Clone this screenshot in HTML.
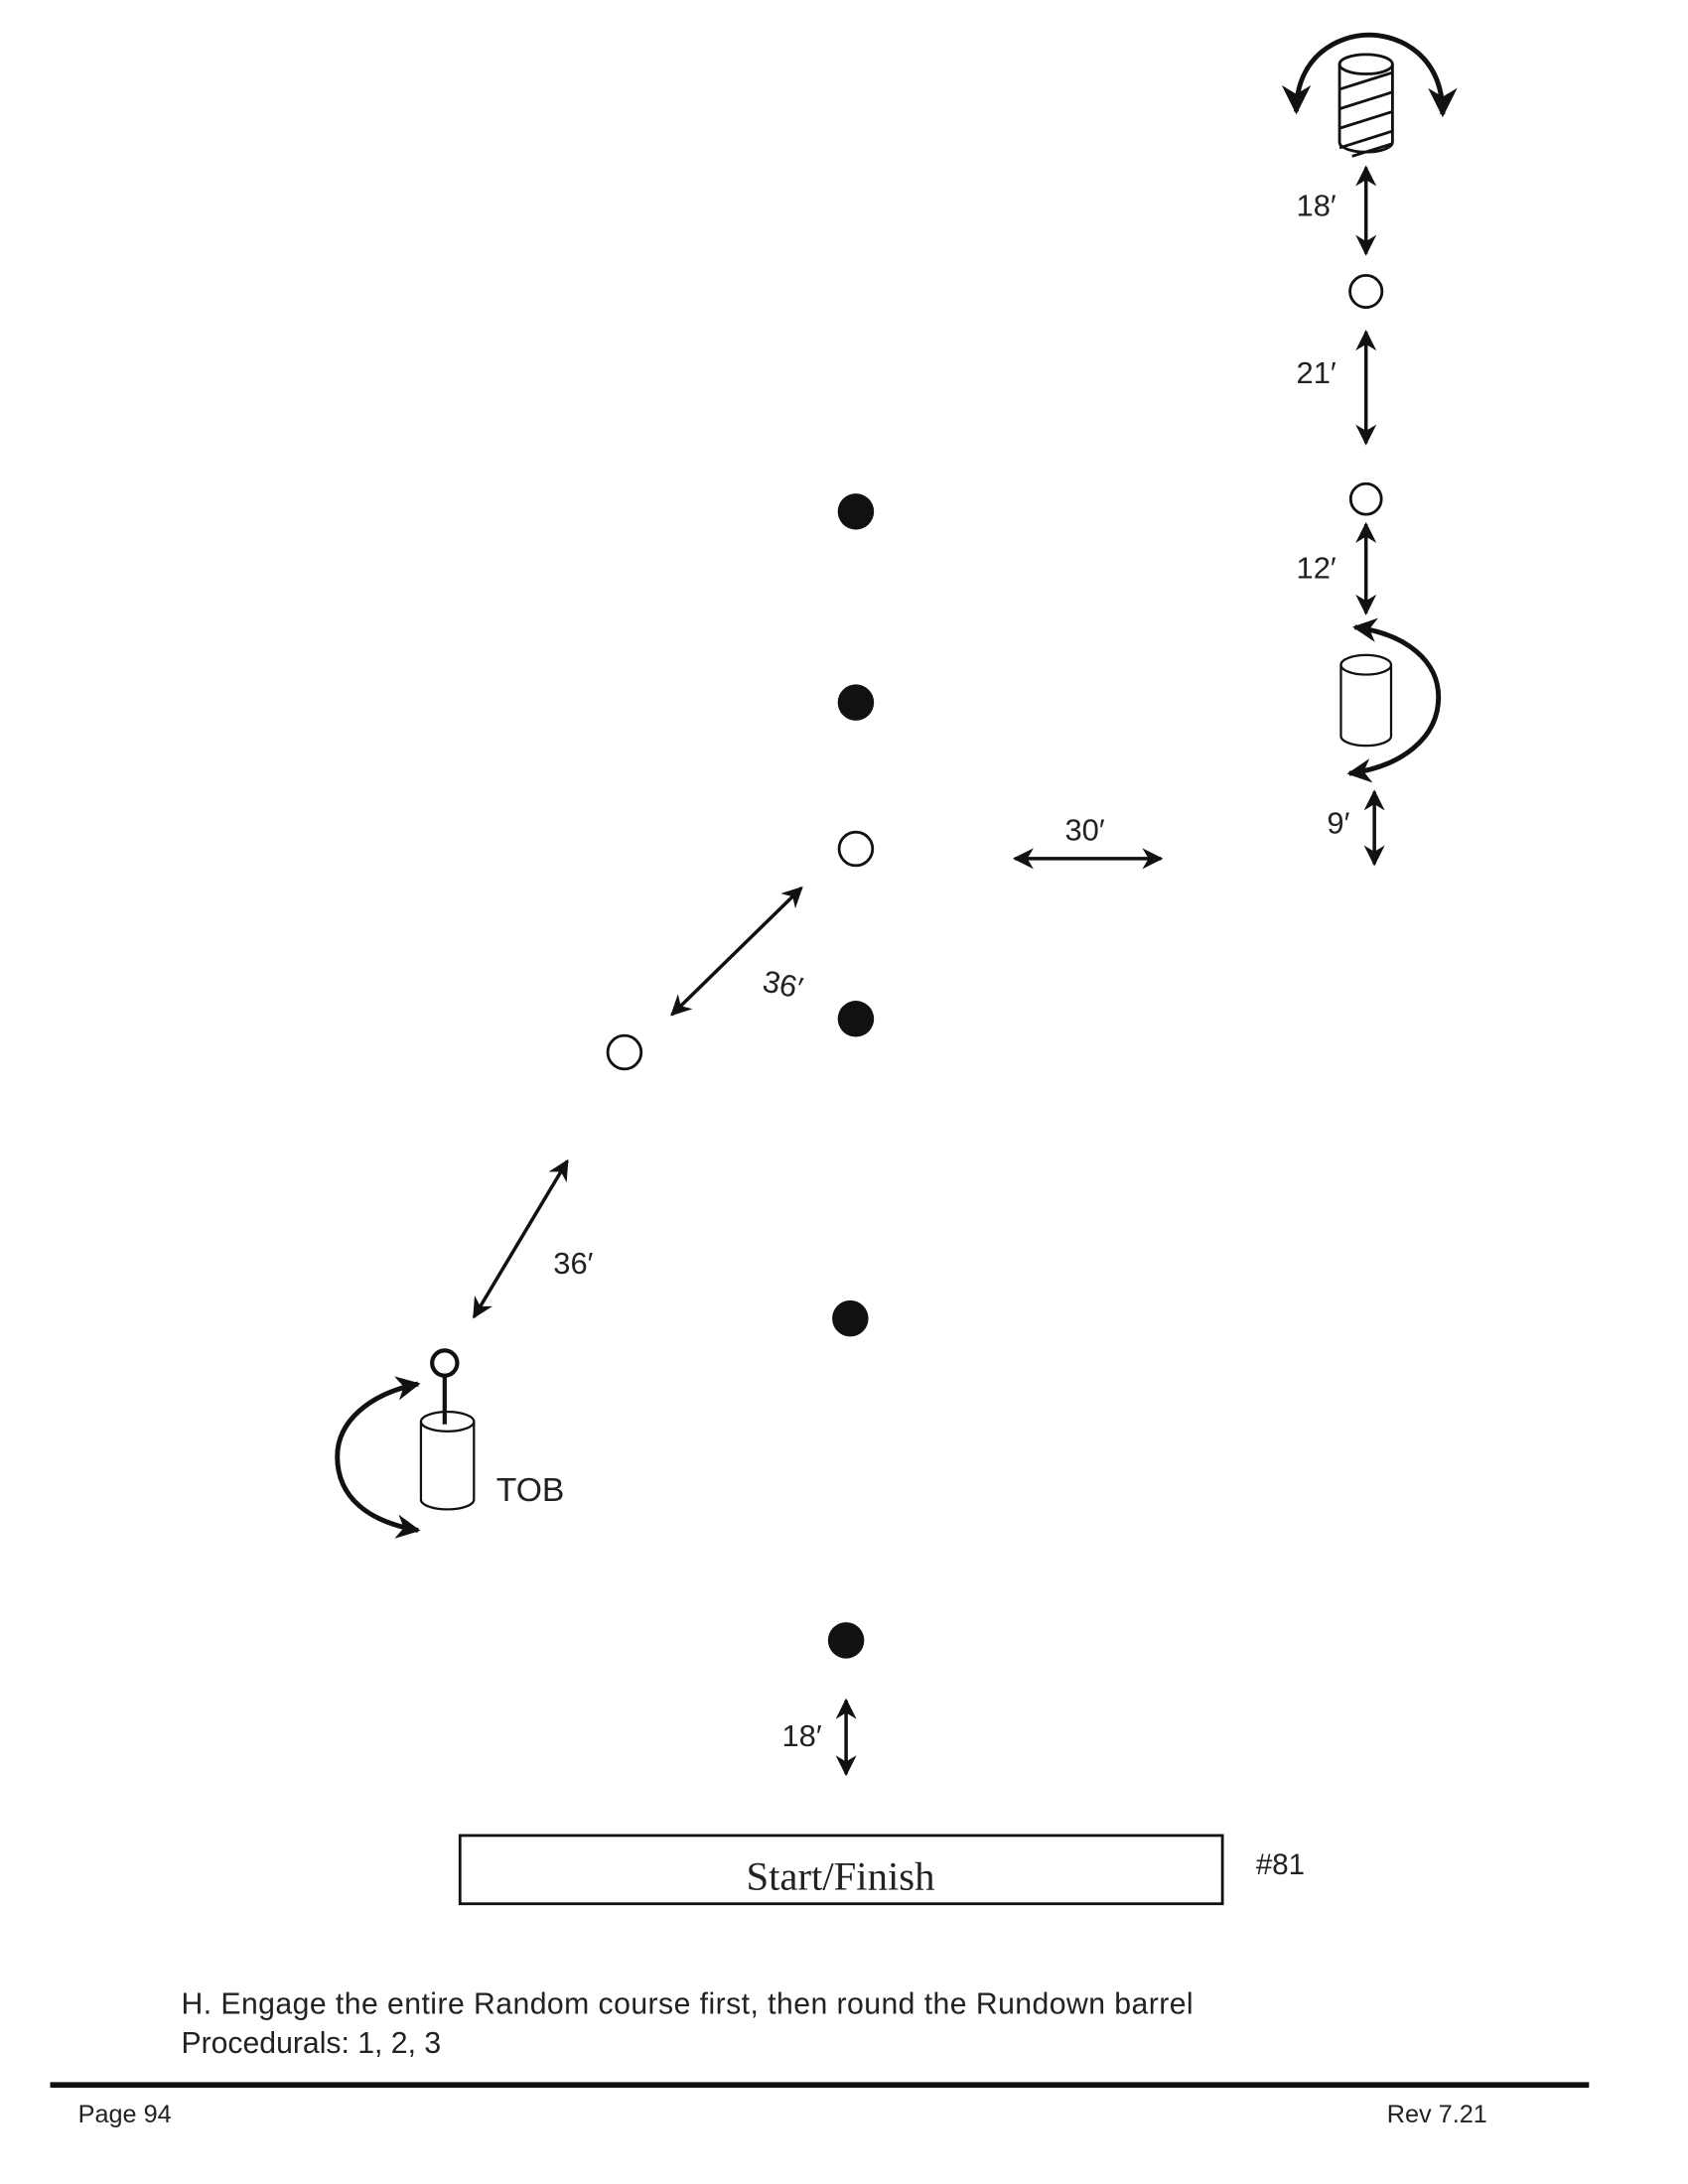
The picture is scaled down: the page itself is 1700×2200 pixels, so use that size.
<!DOCTYPE html>
<html><head><style>html,body{margin:0;padding:0;background:#fff}svg{display:block}</style></head>
<body>
<svg width="1700" height="2200" viewBox="0 0 1211 1567" xmlns="http://www.w3.org/2000/svg" font-family="Liberation Sans, sans-serif">
<defs>
<marker id="a" viewBox="0 0 10 10" refX="9" refY="5" markerWidth="6" markerHeight="6" orient="auto-start-reverse" markerUnits="strokeWidth">
<path d="M0,0 L10,5 L0,10 L3,5 Z" fill="#111"/></marker>
<marker id="b" viewBox="0 0 10 10" refX="9" refY="5" markerWidth="5" markerHeight="5" orient="auto-start-reverse" markerUnits="strokeWidth">
<path d="M0,0 L10,5 L0,10 L3,5 Z" fill="#111"/></marker>
</defs>
<g stroke="#111" fill="none">
<path d="M961,46 V102 A19,7 0 0 0 999,102 V46" stroke-width="2" fill="#fff"/>
<ellipse cx="980" cy="46" rx="19" ry="7" stroke-width="2" fill="#fff"/>
<g stroke-width="2">
<line x1="961" y1="64" x2="999" y2="52"/>
<line x1="961" y1="78" x2="999" y2="66"/>
<line x1="961" y1="92" x2="999" y2="80"/>
<line x1="961" y1="106" x2="999" y2="94"/>
<line x1="970" y1="112" x2="999" y2="103"/>
</g>
<path d="M930,80 C930,40 960,25 982,25 C1005,25 1035,40 1035,82" stroke-width="3.5" marker-start="url(#a)" marker-end="url(#a)"/>
<g stroke-width="2.5">
<line x1="980" y1="120" x2="980" y2="182" marker-start="url(#a)" marker-end="url(#a)"/>
<line x1="980" y1="238" x2="980" y2="318" marker-start="url(#a)" marker-end="url(#a)"/>
<line x1="980" y1="376" x2="980" y2="440" marker-start="url(#a)" marker-end="url(#a)"/>
<line x1="986" y1="568" x2="986" y2="620" marker-start="url(#a)" marker-end="url(#a)"/>
<line x1="607" y1="1220" x2="607" y2="1273" marker-start="url(#a)" marker-end="url(#a)"/>
<line x1="728" y1="616" x2="833" y2="616" marker-start="url(#a)" marker-end="url(#a)"/>
<line x1="575" y1="637" x2="482" y2="728" marker-start="url(#a)" marker-end="url(#a)"/>
<line x1="407" y1="833" x2="340" y2="945" marker-start="url(#a)" marker-end="url(#a)"/>
</g>
<circle cx="980" cy="209" r="11.5" stroke-width="2"/>
<circle cx="980" cy="358" r="11" stroke-width="2"/>
<path d="M962,477 V528 A18,7 0 0 0 998,528 V477" stroke-width="1.6" fill="#fff"/>
<ellipse cx="980" cy="477" rx="18" ry="7" stroke-width="1.6" fill="#fff"/>
<path d="M972,450 C1010,455 1032,475 1032,500 C1032,530 1005,550 968,555" stroke-width="3.5" marker-start="url(#b)" marker-end="url(#b)"/>
<circle cx="614" cy="609" r="12" stroke-width="2"/>
<circle cx="448" cy="755" r="12" stroke-width="2"/>
<circle cx="319" cy="978" r="9" stroke-width="3"/>
<path d="M302,1020 V1076 A19,7 0 0 0 340,1076 V1020" stroke-width="1.6" fill="#fff"/>
<ellipse cx="321" cy="1020" rx="19" ry="7" stroke-width="1.6" fill="#fff"/>
<line x1="319" y1="987" x2="319" y2="1022" stroke-width="3"/>
<path d="M300,993 C265,1000 242,1020 242,1045 C242,1075 265,1092 300,1098" stroke-width="3.5" marker-start="url(#b)" marker-end="url(#b)"/>
<rect x="330" y="1317" width="547" height="49" stroke-width="2"/>
<line x1="36" y1="1496" x2="1140" y2="1496" stroke-width="4"/>
</g>
<g fill="#111">
<circle cx="614" cy="367" r="13"/>
<circle cx="614" cy="504" r="13"/>
<circle cx="614" cy="731" r="13"/>
<circle cx="610" cy="946" r="13"/>
<circle cx="607" cy="1177" r="13"/>
</g>
<g fill="#222" font-size="22">
<text x="930" y="155">18′</text>
<text x="930" y="275">21′</text>
<text x="930" y="415">12′</text>
<text x="952" y="598">9′</text>
<text x="764" y="603">30′</text>
<text x="547" y="714" transform="rotate(12 562 708)">36′</text>
<text x="397" y="914">36′</text>
<text x="356" y="1077" font-size="24">TOB</text>
<text x="561" y="1253">18′</text>
<text x="901" y="1345" font-size="21">#81</text>
<text x="603" y="1356" font-family="Liberation Serif, serif" font-size="29" text-anchor="middle">Start/Finish</text>
<text x="130" y="1445" font-size="21.5" textLength="726" lengthAdjust="spacing">H. Engage the entire Random course first, then round the Rundown barrel</text>
<text x="130" y="1473" font-size="21.5">Procedurals: 1, 2, 3</text>
<text x="56" y="1523" font-size="18">Page 94</text>
<text x="995" y="1523" font-size="18">Rev 7.21</text>
</g>
</svg>
</body></html>
